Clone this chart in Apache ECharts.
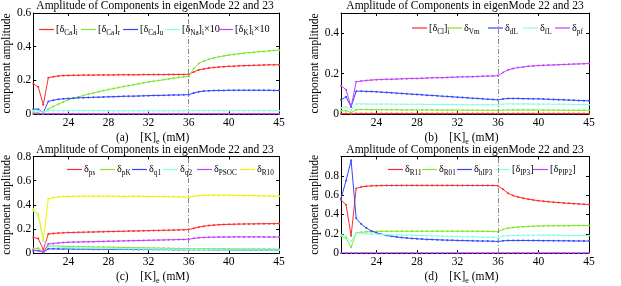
<!DOCTYPE html>
<html><head><meta charset="utf-8">
<script src="https://cdn.jsdelivr.net/npm/echarts@6/dist/echarts.min.js"></script>
<style>html,body{margin:0;padding:0;background:#fff}#c{width:621px;height:286px}</style>
</head><body><div id="c"></div><script>
// ---- data ----
const xs = [20.5,21,21.5,22,22.5,23,23.5,24,24.5,25,25.5,26,26.5,27,27.5,28,28.5,29,29.5,30,30.5,31,31.5,32,32.5,33,33.5,34,34.5,35,35.5,36,36.5,37,37.5,38,38.5,39,39.5,40,40.5,41,41.5,42,42.5,43,43.5,44,44.5,45];
const xTicks = [24,28,32,36,40,45];
const splitX = 36;
const title = 'Amplitude of Components in eigenMode 22 and 23';
const panelLetters = ['(a)','(b)','(c)','(d)'];
const yTicksA = [0,0.2,0.4,0.6];
const yTicksB = [0,0.2,0.4];
const yTicksC = [0,0.2,0.4,0.6,0.8];
const yTicksD = [0,0.2,0.4,0.6,0.8];
const yMax = [0.6,0.5,0.8,1.0];

// panel (a)
const aCaI = [0.18,0.16,0.055,0.215,0.222,0.226,0.228,0.229,0.23,0.23,0.231,0.231,0.231,0.232,0.232,0.232,0.232,0.233,0.233,0.233,0.233,0.233,0.234,0.234,0.234,0.234,0.234,0.235,0.235,0.235,0.235,0.236,0.25,0.262,0.268,0.273,0.276,0.279,0.281,0.283,0.284,0.286,0.287,0.288,0.289,0.29,0.291,0.292,0.292,0.293];
const aCaR = [0.012,0.006,0.0,0.03,0.045,0.058,0.072,0.085,0.094,0.102,0.11,0.118,0.125,0.132,0.139,0.145,0.151,0.157,0.163,0.168,0.174,0.179,0.185,0.19,0.195,0.199,0.204,0.208,0.213,0.217,0.221,0.225,0.27,0.3,0.315,0.325,0.333,0.34,0.345,0.35,0.354,0.358,0.361,0.364,0.367,0.37,0.372,0.375,0.377,0.379];
const aCaU = [0.03,0.028,0.008,0.075,0.082,0.087,0.09,0.092,0.094,0.096,0.097,0.098,0.099,0.1,0.101,0.102,0.103,0.104,0.105,0.106,0.106,0.107,0.108,0.109,0.11,0.11,0.111,0.112,0.113,0.113,0.114,0.115,0.125,0.132,0.136,0.138,0.139,0.14,0.14,0.141,0.141,0.141,0.141,0.141,0.141,0.141,0.141,0.141,0.14,0.14];
const aNaI = [0.02,0.019,0.01,0.02,0.02,0.02,0.02,0.02,0.02,0.02,0.02,0.02,0.02,0.02,0.02,0.02,0.019,0.019,0.019,0.019,0.019,0.019,0.019,0.019,0.019,0.019,0.019,0.019,0.019,0.019,0.019,0.019,0.02,0.02,0.02,0.02,0.02,0.02,0.02,0.02,0.02,0.02,0.02,0.02,0.02,0.02,0.02,0.02,0.02,0.02];
const aKI = [0.002,0.002,0.001,0.002,0.002,0.002,0.002,0.002,0.002,0.002,0.002,0.002,0.002,0.002,0.002,0.002,0.002,0.002,0.002,0.002,0.002,0.002,0.002,0.002,0.002,0.002,0.002,0.002,0.002,0.002,0.002,0.002,0.002,0.002,0.002,0.002,0.002,0.002,0.002,0.002,0.002,0.002,0.002,0.002,0.002,0.002,0.002,0.002,0.002,0.002];
// panel (b)
const bCl = [0.002,0.002,0.001,0.002,0.002,0.002,0.002,0.002,0.002,0.002,0.002,0.002,0.002,0.002,0.002,0.002,0.002,0.002,0.002,0.002,0.002,0.002,0.002,0.002,0.002,0.002,0.002,0.002,0.002,0.002,0.002,0.002,0.002,0.002,0.002,0.002,0.002,0.002,0.002,0.002,0.002,0.002,0.002,0.002,0.002,0.002,0.002,0.002,0.002,0.002];
const bVm = [0.015,0.016,0.007,0.021,0.022,0.022,0.021,0.021,0.021,0.021,0.021,0.021,0.02,0.02,0.02,0.02,0.02,0.02,0.02,0.02,0.019,0.019,0.019,0.019,0.019,0.019,0.019,0.018,0.018,0.018,0.018,0.018,0.019,0.02,0.02,0.02,0.02,0.02,0.02,0.019,0.019,0.019,0.019,0.019,0.019,0.018,0.018,0.018,0.018,0.018];
const bdL = [0.07,0.085,0.035,0.113,0.113,0.112,0.111,0.11,0.108,0.107,0.105,0.103,0.102,0.1,0.098,0.097,0.095,0.093,0.092,0.09,0.088,0.087,0.085,0.083,0.082,0.08,0.078,0.077,0.075,0.073,0.072,0.07,0.074,0.077,0.077,0.077,0.076,0.076,0.075,0.075,0.074,0.073,0.072,0.071,0.07,0.069,0.068,0.067,0.066,0.065];
const bfL = [0.03,0.035,0.018,0.05,0.05,0.049,0.049,0.049,0.049,0.049,0.049,0.048,0.048,0.048,0.048,0.048,0.048,0.047,0.047,0.047,0.047,0.047,0.047,0.047,0.046,0.046,0.046,0.046,0.046,0.046,0.046,0.045,0.048,0.05,0.05,0.05,0.05,0.05,0.049,0.049,0.049,0.049,0.048,0.048,0.048,0.048,0.047,0.047,0.047,0.046];
const bpf = [0.14,0.12,0.035,0.16,0.163,0.166,0.168,0.17,0.171,0.172,0.172,0.173,0.174,0.175,0.176,0.176,0.177,0.178,0.179,0.18,0.18,0.181,0.182,0.183,0.184,0.184,0.185,0.186,0.187,0.188,0.188,0.19,0.205,0.218,0.225,0.23,0.233,0.236,0.238,0.24,0.241,0.242,0.243,0.244,0.245,0.246,0.247,0.248,0.249,0.25];
// panel (c)
const cps = [0.13,0.12,0.028,0.158,0.163,0.166,0.168,0.17,0.171,0.172,0.173,0.174,0.175,0.176,0.177,0.178,0.179,0.18,0.181,0.182,0.183,0.184,0.185,0.186,0.187,0.188,0.189,0.19,0.191,0.192,0.193,0.195,0.205,0.215,0.222,0.228,0.232,0.235,0.237,0.238,0.239,0.24,0.241,0.242,0.242,0.243,0.243,0.244,0.244,0.245];
const cpK = [0.038,0.04,0.012,0.058,0.058,0.057,0.056,0.055,0.054,0.053,0.053,0.052,0.051,0.05,0.05,0.049,0.048,0.047,0.047,0.046,0.045,0.044,0.044,0.043,0.042,0.041,0.041,0.04,0.039,0.038,0.037,0.036,0.036,0.036,0.036,0.036,0.035,0.035,0.035,0.035,0.034,0.034,0.034,0.034,0.033,0.033,0.033,0.033,0.032,0.032];
const cq1 = [0.02,0.02,0.008,0.035,0.035,0.034,0.034,0.034,0.033,0.033,0.033,0.033,0.032,0.032,0.032,0.032,0.031,0.031,0.031,0.031,0.03,0.03,0.03,0.03,0.029,0.029,0.029,0.029,0.028,0.028,0.028,0.027,0.028,0.028,0.028,0.028,0.027,0.027,0.027,0.027,0.026,0.026,0.026,0.026,0.025,0.025,0.025,0.025,0.024,0.024];
const cq2 = [0.35,0.31,0.1,0.06,0.055,0.05,0.047,0.045,0.044,0.043,0.042,0.042,0.041,0.04,0.039,0.039,0.038,0.037,0.036,0.036,0.035,0.035,0.034,0.034,0.033,0.033,0.032,0.032,0.031,0.031,0.03,0.03,0.03,0.03,0.03,0.029,0.029,0.029,0.028,0.028,0.028,0.027,0.027,0.027,0.026,0.026,0.026,0.025,0.025,0.025];
const cPSOC = [0.025,0.022,0.008,0.075,0.08,0.084,0.087,0.09,0.091,0.092,0.093,0.094,0.095,0.096,0.097,0.098,0.099,0.1,0.101,0.102,0.103,0.104,0.105,0.106,0.107,0.108,0.109,0.11,0.111,0.112,0.113,0.115,0.122,0.127,0.13,0.131,0.132,0.133,0.133,0.133,0.134,0.134,0.134,0.134,0.134,0.134,0.134,0.133,0.133,0.133];
const cR10 = [0.367,0.326,0.11,0.448,0.46,0.465,0.468,0.47,0.47,0.47,0.471,0.471,0.471,0.471,0.471,0.471,0.471,0.47,0.47,0.47,0.47,0.47,0.47,0.469,0.469,0.469,0.468,0.468,0.467,0.466,0.464,0.462,0.47,0.476,0.479,0.48,0.48,0.48,0.479,0.479,0.478,0.478,0.477,0.476,0.476,0.475,0.474,0.473,0.472,0.471];
// panel (d)
const dR11 = [0.55,0.5,0.18,0.67,0.685,0.692,0.696,0.698,0.699,0.7,0.7,0.7,0.701,0.701,0.701,0.701,0.701,0.701,0.701,0.701,0.701,0.701,0.701,0.701,0.7,0.7,0.7,0.7,0.7,0.7,0.699,0.698,0.66,0.62,0.595,0.58,0.568,0.558,0.55,0.543,0.537,0.532,0.527,0.523,0.519,0.515,0.512,0.509,0.506,0.503];
const dR01 = [0.175,0.155,0.06,0.21,0.215,0.22,0.222,0.224,0.225,0.226,0.226,0.227,0.227,0.227,0.227,0.227,0.227,0.227,0.227,0.227,0.227,0.227,0.227,0.227,0.227,0.227,0.226,0.226,0.226,0.225,0.224,0.22,0.245,0.258,0.265,0.27,0.273,0.276,0.278,0.28,0.281,0.282,0.283,0.283,0.284,0.284,0.285,0.285,0.285,0.286];
const dhIP3 = [0.565,0.75,0.96,0.36,0.3,0.26,0.23,0.21,0.195,0.183,0.174,0.167,0.161,0.156,0.152,0.148,0.145,0.142,0.14,0.138,0.136,0.134,0.133,0.131,0.13,0.129,0.127,0.126,0.125,0.124,0.123,0.12,0.127,0.13,0.131,0.131,0.131,0.13,0.13,0.13,0.129,0.129,0.128,0.128,0.127,0.127,0.126,0.126,0.125,0.125];
const dIP3 = [0.19,0.18,0.12,0.21,0.205,0.2,0.197,0.195,0.193,0.191,0.19,0.188,0.187,0.185,0.184,0.182,0.181,0.179,0.178,0.177,0.175,0.174,0.173,0.172,0.17,0.169,0.168,0.167,0.165,0.164,0.163,0.16,0.175,0.18,0.183,0.184,0.185,0.185,0.185,0.185,0.185,0.184,0.184,0.184,0.183,0.183,0.183,0.182,0.182,0.182];
const dPIP2 = [0.002,0.002,0.001,0.002,0.002,0.002,0.002,0.002,0.002,0.002,0.002,0.002,0.002,0.002,0.002,0.002,0.002,0.002,0.002,0.002,0.002,0.002,0.002,0.002,0.002,0.002,0.002,0.002,0.002,0.002,0.002,0.002,0.002,0.002,0.002,0.002,0.002,0.002,0.002,0.002,0.002,0.002,0.002,0.002,0.002,0.002,0.002,0.002,0.002,0.002];

// ---- style / layout ----
const FONT = 'Liberation Serif';
const C = {r:'#ff2b2b', g:'#7ee82a', b:'#3048ff', c:'#88ffe6', m:'#c040ff', y:'#f2f200'};

const panels = [
  {grid:{left:31,top:13,width:248,height:101}, yTicks:yTicksA, legTop:22, legLeft:[39,81,123,165,218],
   series:[['a1',aCaI,C.r,'[δ{s|Ca}]{s|i}'],['a2',aCaR,C.g,'[δ{s|Ca}]{s|r}'],['a3',aCaU,C.b,'[δ{s|Ca}]{s|u}'],['a4',aNaI,C.c,'[δ{s|Na}]{s|i}×10'],['a5',aKI,C.m,'[δ{s|K}]{s|i}×10']]},
  {grid:{left:341,top:13,width:248,height:101}, yTicks:yTicksB, legTop:20.5, legLeft:[412,447,488,523,555],
   series:[['b1',bCl,C.r,'[δ{s|Cl}]{s|i}'],['b2',bVm,C.g,'δ{s|Vm}'],['b3',bdL,C.b,'δ{s|dL}'],['b4',bfL,C.c,'δ{s|fL}'],['b5',bpf,C.m,'δ{s|pf}']]},
  {grid:{left:31,top:156.5,width:248,height:100}, yTicks:yTicksC, legTop:162, legLeft:[67,100,132,163,197,240],
   series:[['c1',cps,C.r,'δ{s|ps}'],['c2',cpK,C.g,'δ{s|pK}'],['c3',cq1,C.b,'δ{s|q1}'],['c4',cq2,C.c,'δ{s|q2}'],['c5',cPSOC,C.m,'δ{s|PSOC}'],['c6',cR10,C.y,'δ{s|R10}']]},
  {grid:{left:341,top:156.5,width:248,height:100}, yTicks:yTicksD, legTop:162, legLeft:[388,422,457,495,533],
   series:[['d1',dR11,C.r,'δ{s|R11}'],['d2',dR01,C.g,'δ{s|R01}'],['d3',dhIP3,C.b,'δ{s|hIP3}'],['d4',dIP3,C.c,'[δ{s|IP3}]'],['d5',dPIP2,C.m,'[δ{s|PIP2}]']]}
];

const labelMap = {};
const option = {animation:false, backgroundColor:'#fff', grid:[], xAxis:[], yAxis:[], series:[], legend:[], graphic:[]};
const axisLineStyle = {color:'#000', width:1};
panels.forEach((p, i) => {
  option.grid.push(Object.assign({containLabel:false}, p.grid));
  const cx = p.grid.left + p.grid.width/2;
  option.graphic.push({type:'text', x:cx, y:p.grid.top-7, style:{text:title, font:'11.5px "Liberation Serif"', fill:'#000', align:'center', verticalAlign:'middle'}});
  option.xAxis.push({gridIndex:i, type:'value', min:20.5, max:45, position:'bottom',
    axisLine:{onZero:false, lineStyle:axisLineStyle},
    axisTick:{inside:true, length:3, customValues:xTicks, lineStyle:axisLineStyle},
    axisLabel:{customValues:xTicks, color:'#000', fontFamily:FONT, fontSize:11.5, margin:3},
    splitLine:{show:false},
    name: panelLetters[i] + '    [K]{s|e} (mM)', nameLocation:'middle', nameGap:12,
    nameTextStyle:{color:'#000', fontFamily:FONT, fontSize:11.5, lineHeight:16, padding:[0,7,0,0],
      rich:{s:{fontSize:8, fontFamily:FONT, color:'#000', lineHeight:16, verticalAlign:'bottom'}}}});
  option.xAxis.push({gridIndex:i, type:'value', min:20.5, max:45, position:'top',
    axisLine:{onZero:false, lineStyle:axisLineStyle},
    axisTick:{inside:true, length:3, customValues:xTicks, lineStyle:axisLineStyle},
    axisLabel:{show:false}, splitLine:{show:false}});
  option.yAxis.push({gridIndex:i, type:'value', min:0, max:yMax[i], position:'left',
    axisLine:{onZero:false, lineStyle:axisLineStyle},
    axisTick:{inside:true, length:3, customValues:p.yTicks, lineStyle:axisLineStyle},
    axisLabel:{customValues:p.yTicks, color:'#000', fontFamily:FONT, fontSize:11.5, margin:2},
    splitLine:{show:false},
    name:'component amplitude', nameLocation:'middle', nameGap:17,
    nameTextStyle:{color:'#000', fontFamily:FONT, fontSize:11.5}});
  option.yAxis.push({gridIndex:i, type:'value', min:0, max:yMax[i], position:'right',
    axisLine:{onZero:false, lineStyle:axisLineStyle},
    axisTick:{inside:true, length:3, customValues:p.yTicks, lineStyle:axisLineStyle},
    axisLabel:{show:false}, splitLine:{show:false}});
  p.series.forEach((s, k) => {
    labelMap[s[0]] = s[3];
    const ser = {type:'line', name:s[0], xAxisIndex:2*i, yAxisIndex:2*i,
      data: xs.map((x, j) => [x, s[1][j]]),
      symbol:'circle', symbolSize:2, showSymbol:true,
      lineStyle:{width:1, color:s[2]}, itemStyle:{color:s[2]}, z:2+k};
    if (k === 0) {
      ser.markLine = {silent:true, symbol:'none', label:{show:false},
        lineStyle:{color:'#8a8a8a', type:[5,2,1,2], width:1}, data:[{xAxis:splitX}]};
    }
    option.series.push(ser);
    option.legend.push({data:[s[0]], left:p.legLeft[k], top:p.legTop, orient:'horizontal',
      icon:'rect', itemWidth:15, itemHeight:1.2, itemGap:0, padding:0,
      formatter: n => labelMap[n],
      textStyle:{color:'#000', fontFamily:FONT, fontSize:10.2, lineHeight:15, padding:[0,0,0,-3],
        rich:{s:{fontSize:7.2, fontFamily:FONT, color:'#000', lineHeight:15, verticalAlign:'bottom'}}}});
  });
});

const chart = echarts.init(document.getElementById('c'), null, {renderer:'canvas'});
chart.setOption(option);
</script></body></html>
